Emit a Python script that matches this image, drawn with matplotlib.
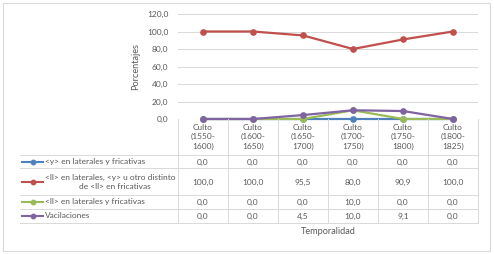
import matplotlib
matplotlib.use("Agg")
import matplotlib.pyplot as plt
from matplotlib.patches import Rectangle
from matplotlib import transforms

# ==========================================================
# Data
# ==========================================================

periodos = ["Culto\n(1550-\n1600)", "Culto\n(1600-\n1650)", "Culto\n(1650-\n1700)",
            "Culto\n(1700-\n1750)", "Culto\n(1750-\n1800)", "Culto\n(1800-\n1825)"]

serie_y = [0.0, 0.0, 0.0, 0.0, 0.0, 0.0]
serie_ll_y = [100.0, 100.0, 95.5, 80.0, 90.9, 100.0]
serie_ll = [0.0, 0.0, 0.0, 10.0, 0.0, 0.0]
vacilaciones = [0.0, 0.0, 4.5, 10.0, 9.1, 0.0]

nombres = ["<y> en laterales y fricativas",
           "<ll> en laterales, <y> u otro distinto\nde <ll> en fricativas",
           "<ll> en laterales y fricativas",
           "Vacilaciones"]
series = [serie_y, serie_ll_y, serie_ll, vacilaciones]
colores = ["#4F81BD", "#C0504D", "#9BBB59", "#8064A2"]

# ==========================================================
# Figure
# ==========================================================

W, H = 494, 254
plt.rcParams["font.family"] = ["Lato", "DejaVu Sans"]
fig = plt.figure(figsize=(W / 100, H / 100), dpi=100)


def box(x0, y0, x1, y1):
    return [x0 / W, 1 - y1 / H, (x1 - x0) / W, (y1 - y0) / H]


txt = "#595959"
grid = "#D9D9D9"
fs = 6.0

fig.add_artist(Rectangle((3 / W, 1 - 251 / H), 487 / W, 248 / H,
                         transform=fig.transFigure, fill=False,
                         edgecolor=grid, lw=0.8))

ax = fig.add_axes(box(178, 14, 478, 119))
x = list(range(len(periodos)))
for vals, c in zip(series, colores):
    ax.plot(x, vals, color=c, lw=1.6, marker="o", ms=3.8, zorder=3,
            clip_on=False)

ax.set_xlim(-0.5, len(periodos) - 0.5)
ax.set_ylim(0, 120)
ax.set_yticks(range(0, 121, 20))
ax.set_yticklabels([f"{v:.1f}".replace(".", ",") for v in range(0, 121, 20)])
ax.tick_params(axis="y", length=0, labelsize=fs, colors=txt, pad=7)
ax.set_xticks([])
ax.grid(axis="y", color=grid, lw=0.7)
for s in ax.spines.values():
    s.set_visible(False)
ax.set_ylabel("Porcentajes", fontsize=6.6, color=txt, labelpad=5)

# ==========================================================
# Data table
# ==========================================================

tax = fig.add_axes(box(20, 119, 478, 224))
tax.set_xlim(20, 478)
tax.set_ylim(224, 119)
tax.axis("off")
bt = transforms.blended_transform_factory(ax.transData, tax.transData)

for i in range(len(periodos) + 1):
    tax.plot([i - 0.5, i - 0.5], [119, 223], color=grid, lw=0.7,
             transform=bt, clip_on=False)
for yl in [155, 168, 195, 209, 223]:
    tax.plot([20, 478], [yl, yl], color=grid, lw=0.7, clip_on=False)

for i, p in enumerate(periodos):
    tax.text(i, 137, p, transform=bt, ha="center", va="center",
             fontsize=fs, color=txt, linespacing=1.35)

filas_y = [162, 182, 202, 216]
for yy, nombre, vals, c in zip(filas_y, nombres, series, colores):
    tax.plot([22, 43], [yy, yy], color=c, lw=1.5, clip_on=False)
    tax.plot([32.5], [yy], color=c, marker="o", ms=3.2, clip_on=False)
    if "\n" in nombre:
        l1, l2 = nombre.split("\n")
        tax.text(45, yy - 5, l1, ha="left", va="center", fontsize=fs, color=txt)
        tax.text(115, yy + 5, l2, ha="center", va="center", fontsize=fs, color=txt)
    else:
        tax.text(45, yy, nombre, ha="left", va="center", fontsize=fs, color=txt)
    for i, v in enumerate(vals):
        tax.text(i, yy, f"{v:.1f}".replace(".", ","), transform=bt,
                 ha="center", va="center", fontsize=fs, color=txt)

fig.text(328 / W, 1 - 232 / H, "Temporalidad", ha="center", va="center",
         fontsize=6.6, color=txt)

fig.savefig("out.png", dpi=100)
